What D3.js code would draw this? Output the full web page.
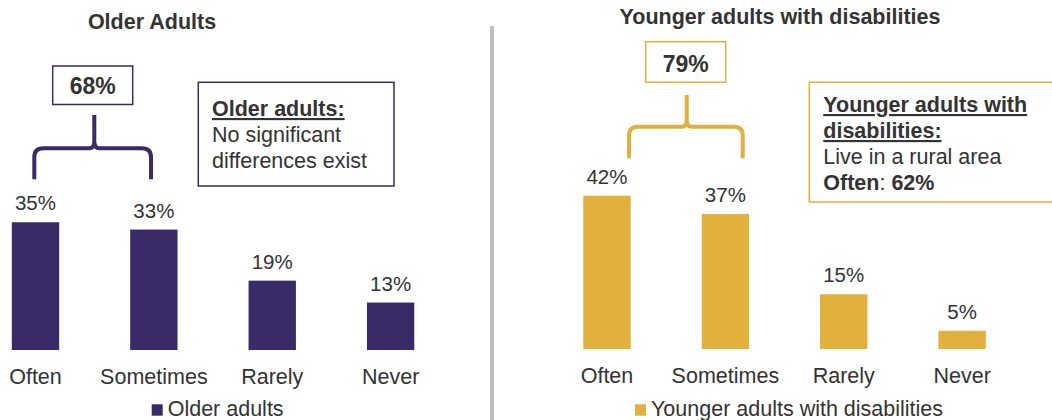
<!DOCTYPE html>
<html>
<head>
<meta charset="utf-8">
<script src="https://cdn.jsdelivr.net/npm/d3@7"></script>
<style>
  html, body { margin: 0; padding: 0; background: #fff; }
  svg { display: block; font-family: "Liberation Sans", Arial, Helvetica, sans-serif; }
</style>
</head>
<body>
<svg id="chart" width="1052" height="420"></svg>
<script>
// ---- data ----
const categories = ["Often", "Sometimes", "Rarely", "Never"];
const olderValues = [35, 33, 19, 13];
const youngerValues = [42, 37, 15, 5];
const panelTitles = ["Older Adults", "Younger adults with disabilities"];
const seriesNames = ["Older adults", "Younger adults with disabilities"];
const groupTotals = [68, 79];
const noteHeadings = [["Older adults:"], ["Younger adults with", "disabilities:"]];
const noteBodies = [
  [[{t: "No significant", b: false}], [{t: "differences exist", b: false}]],
  [[{t: "Live in a rural area", b: false}], [{t: "Often", b: true}, {t: ": ", b: false}, {t: "62%", b: true}]]
];

// ---- style / layout ----
const colors = ["#3b2a68", "#e2b03c"];
const textColor = "#333333";
const svg = d3.select("#chart");

const panels = [
  {
    values: olderValues, color: colors[0],
    xRange: [-23.7, 449.8], base: 350,
    title: {x: 152, y: 28.5},
    total: {x: 52.7, y: 66, w: 80, h: 38.5, ty: 94},
    brace: {L: 34.3, R: 151, tx: 94.3, yt: 115, yh: 148.3, yb: 179.3},
    note: {x: 198.3, y: 82.3, w: 195.7, h: 103.7, tx: 212, ty: 116},
    legend: {x: 151.7, y: 404.3}
  },
  {
    values: youngerValues, color: colors[1],
    xRange: [547.8, 1021.3], base: 349,
    title: {x: 780, y: 24},
    total: {x: 645.7, y: 41.7, w: 80, h: 40.6, ty: 71.7},
    brace: {L: 629, R: 742.7, tx: 686.7, yt: 95, yh: 126.7, yb: 158.3},
    note: {x: 809.3, y: 82.3, w: 260, h: 119.7, tx: 823.3, ty: 112},
    legend: {x: 635, y: 404.3}
  }
];

// divider
svg.append("line")
  .attr("x1", 492).attr("x2", 492).attr("y1", 26).attr("y2", 420)
  .attr("stroke", "#bfbfbf").attr("stroke-width", 4);

panels.forEach((p, i) => {
  const g = svg.append("g");
  const x = d3.scaleBand().domain(categories).range(p.xRange)
    .paddingInner(0.6).paddingOuter(0.3);
  const y = d3.scaleLinear().domain([0, 50]).range([p.base, p.base - 50 * 3.65]);

  // title
  g.append("text").attr("x", p.title.x).attr("y", p.title.y)
    .attr("text-anchor", "middle").attr("font-weight", "bold")
    .attr("font-size", 21.5).attr("fill", textColor).text(panelTitles[i]);

  // bars
  g.selectAll("rect.bar").data(p.values).join("rect")
    .attr("class", "bar")
    .attr("x", (d, j) => x(categories[j]))
    .attr("width", x.bandwidth())
    .attr("y", d => y(d))
    .attr("height", d => y(0) - y(d))
    .attr("fill", p.color);

  // value labels
  g.selectAll("text.val").data(p.values).join("text")
    .attr("class", "val")
    .attr("x", (d, j) => x(categories[j]) + x.bandwidth() / 2)
    .attr("y", d => y(d) - 12)
    .attr("text-anchor", "middle").attr("font-size", 20.5)
    .attr("fill", textColor).text(d => d + "%");

  // category axis labels
  const axis = d3.axisBottom(x).tickSize(0).tickPadding(0);
  const ag = g.append("g").attr("transform", `translate(0,${p.base})`).call(axis);
  ag.select(".domain").remove();
  ag.selectAll("text").attr("dy", null).attr("y", 33.5)
    .attr("font-size", 21.5).attr("fill", textColor)
    .attr("font-family", "'Liberation Sans', Arial, sans-serif");

  // total box
  g.append("rect").attr("x", p.total.x).attr("y", p.total.y)
    .attr("width", p.total.w).attr("height", p.total.h)
    .attr("fill", "#fff").attr("stroke", p.color).attr("stroke-width", 1.5);
  g.append("text").attr("x", p.total.x + p.total.w / 2).attr("y", p.total.ty)
    .attr("text-anchor", "middle").attr("font-weight", "bold")
    .attr("font-size", 23).attr("fill", textColor).text(groupTotals[i] + "%");

  // brace
  const b = p.brace, r = 9, r2 = 5;
  const path = d3.path();
  path.moveTo(b.L, b.yb);
  path.lineTo(b.L, b.yh + r);
  path.quadraticCurveTo(b.L, b.yh, b.L + r, b.yh);
  path.lineTo(b.tx - r2, b.yh);
  path.quadraticCurveTo(b.tx, b.yh, b.tx, b.yh - r2 - 2);
  path.lineTo(b.tx, b.yt);
  path.moveTo(b.tx, b.yh - r2 - 2);
  path.quadraticCurveTo(b.tx, b.yh, b.tx + r2, b.yh);
  path.lineTo(b.R - r, b.yh);
  path.quadraticCurveTo(b.R, b.yh, b.R, b.yh + r);
  path.lineTo(b.R, b.yb);
  g.append("path").attr("d", path.toString())
    .attr("fill", "none").attr("stroke", p.color)
    .attr("stroke-width", 4).attr("stroke-linejoin", "round");

  // note box
  g.append("rect").attr("x", p.note.x).attr("y", p.note.y)
    .attr("width", p.note.w).attr("height", p.note.h)
    .attr("fill", "#fff").attr("stroke", p.color).attr("stroke-width", 1.5);
  const lineH = 26;
  let ly = p.note.ty;
  noteHeadings[i].forEach(h => {
    g.append("text").attr("x", p.note.tx).attr("y", ly)
      .attr("font-size", 21.5).attr("font-weight", "bold")
      .attr("text-decoration", "underline").attr("fill", textColor).text(h);
    ly += lineH;
  });
  noteBodies[i].forEach(line => {
    const t = g.append("text").attr("x", p.note.tx).attr("y", ly)
      .attr("font-size", 21.5).attr("fill", textColor);
    line.forEach(s => t.append("tspan").attr("font-weight", s.b ? "bold" : "normal").text(s.t));
    ly += lineH;
  });

  // legend
  g.append("rect").attr("x", p.legend.x).attr("y", p.legend.y)
    .attr("width", 11).attr("height", 11.4).attr("fill", p.color);
  g.append("text").attr("x", p.legend.x + 16).attr("y", p.legend.y + 11.2)
    .attr("font-size", 21.5).attr("fill", textColor).text(seriesNames[i]);
});
</script>
</body>
</html>
